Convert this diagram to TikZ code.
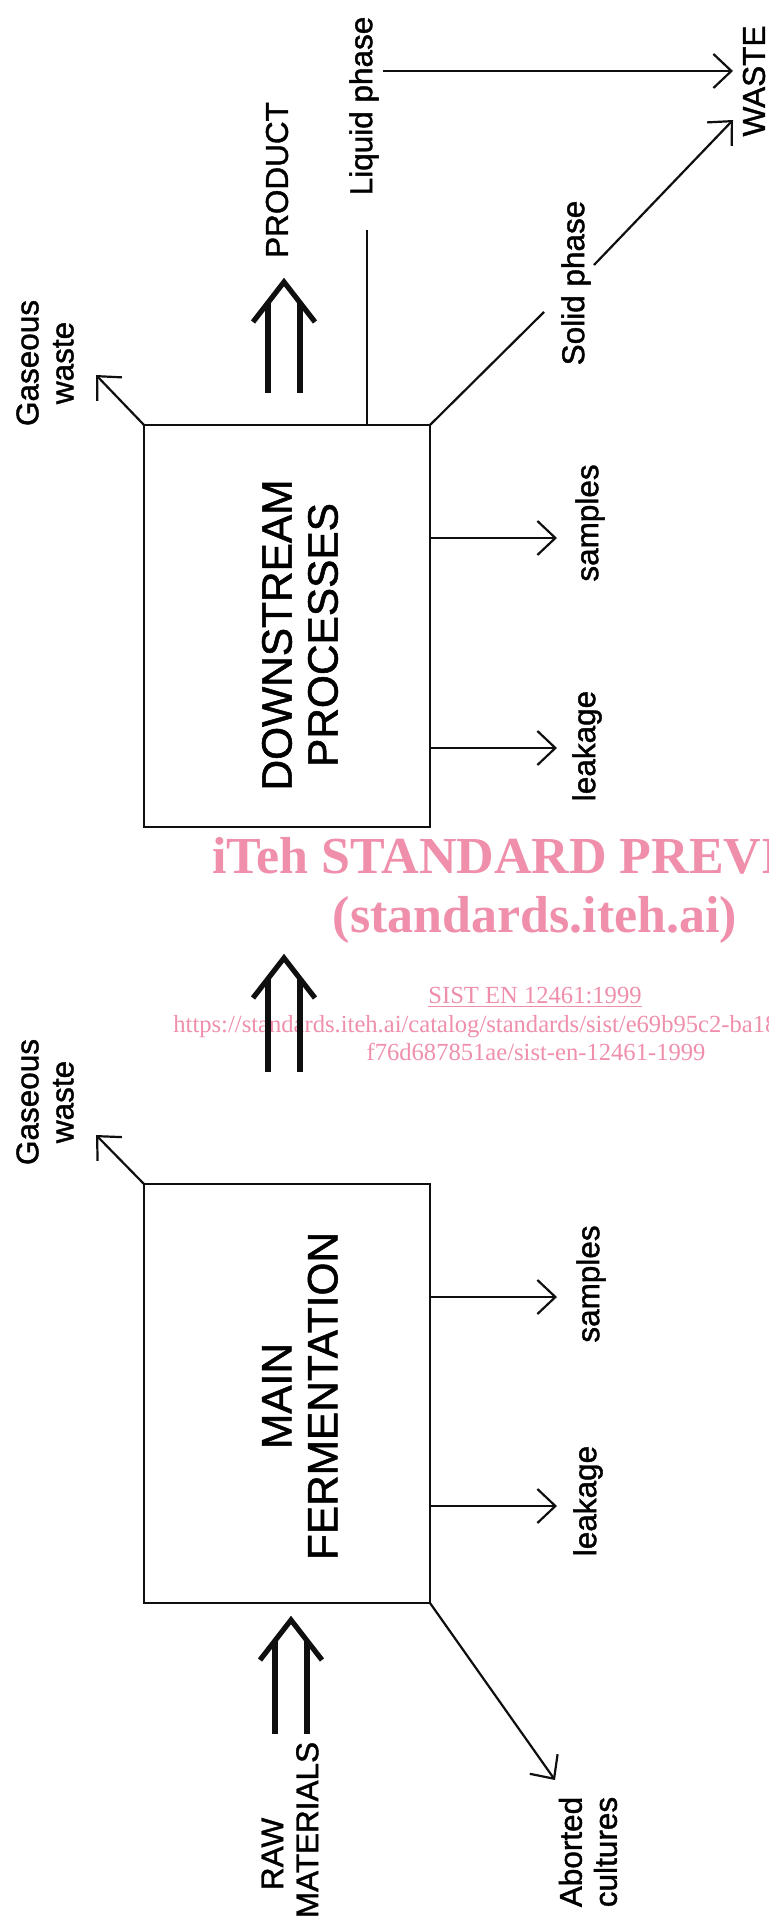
\documentclass[tikz,border=0pt]{standalone}
\usepackage{fontspec}
\setmainfont{Liberation Sans}
\newfontfamily\scansans{Liberation Sans}[FakeBold=1.3]
\newfontfamily\wmfont{Liberation Serif}
\usepackage{xcolor}
\usetikzlibrary{arrows.meta,positioning,calc}
\definecolor{inkBlack}{RGB}{15,15,15}
\definecolor{wmPink}{RGB}{239,143,171}
\tikzset{
  procbox/.style={
    rectangle, draw=inkBlack, line width=1.4pt, outer sep=0pt,
    minimum width=143pt, inner sep=0pt
  },
  boxtext/.style={rotate=90, align=center, inner sep=0pt,
    font=\scansans\fontsize{21.2}{23}\selectfont},
  flowlabel/.style={rotate=90, align=center, inner sep=2pt,
    font=\scansans\fontsize{15.75}{17.5}\selectfont},
  flowArrow/.style={line width=1.1pt, draw=inkBlack,
    -{Straight Barb[length=9pt,width=17pt]}},
  flowLine/.style={line width=1.1pt, draw=inkBlack},
  bulkline/.style={line width=2.6pt, draw=inkBlack},
  wmbig/.style={text=wmPink, inner sep=0pt,
    font=\wmfont\bfseries\fontsize{26}{30}\selectfont},
  wmsmall/.style={text=wmPink, inner sep=0pt,
    font=\wmfont\fontsize{12.3}{14}\selectfont},
  pics/bulkflow/.style={code={
    \draw[bulkline] (-31,40) -- (0,0) -- (31,40);
    \draw[bulkline] (-16,20.6) -- (-16,#1);
    \draw[bulkline] (16,20.6) -- (16,#1);
  }}
}

\begin{document}
\begin{tikzpicture}[x=0.5pt, y=-0.5pt]
  \fill[white] (0,0) rectangle (769,1925);
  \useasboundingbox (0,0) rectangle (769,1925);

  % watermark
  \node[wmbig, anchor=base west] (wmtitle) at (212,873) {iTeh STANDARD PREVI};
  \node[wmbig, anchor=base] (wmsite) at (535,932) {(standards.iteh.ai)};
  \node[wmsmall, anchor=base] (wmcode) at (535,1003) {\underline{SIST EN 12461:1999}};
  \node[wmsmall, anchor=base west] (wmurl) at (173,1032)
    {https://standards.iteh.ai/catalog/standards/sist/e69b95c2-ba18-};
  \node[wmsmall, anchor=base] (wmurltail) at (536,1060) {f76d687851ae/sist-en-12461-1999};

  % downstream stage
  \node[procbox, minimum height=201pt] (ds) at (287,626) {};
  \node[boxtext] (dstext) at (300,635) {DOWNSTREAM\\PROCESSES};
  \node[flowlabel] (gwds) at (45,363) {Gaseous\\waste};
  \node[flowlabel] (prod) at (277,180) {PRODUCT};
  \node[flowlabel] (liq) at (364,106) {Liquid phase};
  \node[flowlabel] (solid) at (576,283) {Solid phase};
  \node[flowlabel] (waste) at (754,81) {WASTE};
  \node[flowlabel] (dssmp) at (590,523) {samples};
  \node[flowlabel] (dslk) at (587,746) {leakage};

  \coordinate (gwdstip) at (96,375);
  \coordinate (lqtip) at (733,71);
  \coordinate (sdtip) at (733,120);
  \coordinate (sdA) at (544,312);
  \coordinate (sdB) at (594,265);

  \draw[flowArrow] (ds.north west) -- (gwdstip);
  \pic at (284,282) {bulkflow=111};
  \draw[flowLine] ([xshift=40pt]ds.north) -- ++(0,-195);
  \draw[flowArrow] (liq.south |- lqtip) -- (lqtip);
  \draw[flowLine] (ds.north east) -- (sdA);
  \draw[flowArrow] (sdB) -- (sdtip);
  \draw[flowArrow] ([yshift=44pt]ds.east) -- ++(127,0);
  \draw[flowArrow] ([yshift=-61pt]ds.east) -- ++(127,0);

  % transfer to downstream
  \pic at (284,958) {bulkflow=114};

  % main fermentation stage
  \node[procbox, minimum height=209.5pt] (mf) at (287,1393.5) {};
  \node[boxtext] (mftext) at (300,1396) {MAIN\\FERMENTATION};
  \node[flowlabel] (gwmf) at (45,1102) {Gaseous\\waste};
  \node[flowlabel] (mfsmp) at (591,1284) {samples};
  \node[flowlabel] (mflk) at (588,1501) {leakage};
  \node[flowlabel] (abort) at (588,1852) {Aborted\\cultures};
  \node[flowlabel, align=left] (raw) at (290,1830) {\hspace*{14pt}RAW\\MATERIALS};

  \coordinate (gwmftip) at (96,1135);
  \coordinate (abtip) at (555,1780);

  \draw[flowArrow] (mf.north west) -- (gwmftip);
  \draw[flowArrow] ([yshift=48.25pt]mf.east) -- ++(127,0);
  \draw[flowArrow] ([yshift=-56.25pt]mf.east) -- ++(127,0);
  \draw[flowArrow] (mf.south east) -- (abtip);
  \pic at (291,1620) {bulkflow=114};
\end{tikzpicture}
\end{document}
